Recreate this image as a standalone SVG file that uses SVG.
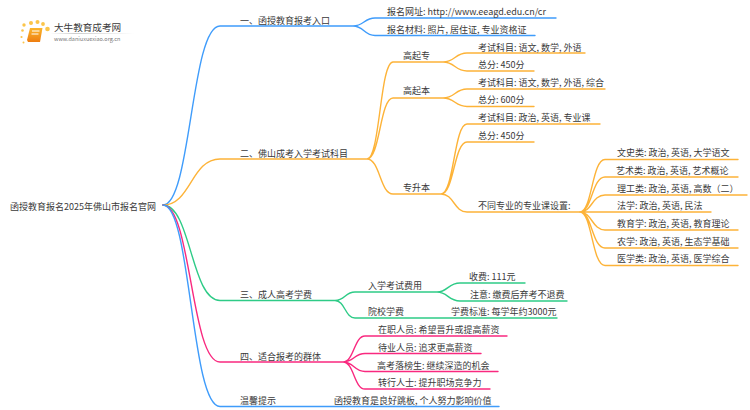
<svg xmlns="http://www.w3.org/2000/svg" width="750" height="410" viewBox="0 0 750 410">
<style>
text{font-family:"Noto Sans CJK SC","Noto Sans",sans-serif;font-size:9px;fill:#3a3a3a}
.c{fill:none;stroke-width:1.4;stroke-linecap:round}
.b{stroke:#3f9cfb}.o{stroke:#fdb338}.g{stroke:#2ecb87}.p{stroke:#f9297f}
</style>
<defs><linearGradient id="u"><stop offset="0" stop-color="#ccc" stop-opacity="0"/><stop offset=".3" stop-color="#ccc"/><stop offset="1" stop-color="#ccc" stop-opacity="0"/></linearGradient>
<linearGradient id="bk" x1="0" y1="0" x2="0" y2="1"><stop offset="0" stop-color="#fbb62c"/><stop offset="1" stop-color="#ee7d10"/></linearGradient></defs>
<rect width="750" height="410" fill="#fff"/>
<g id="logo">
<g fill="#fbc54a"><circle cx="24" cy="25" r="1.700"/><circle cx="31" cy="23" r="2"/><circle cx="37.500" cy="22" r="2"/><circle cx="43" cy="24" r="1.900"/><circle cx="47.500" cy="29" r="2.300"/><circle cx="22.500" cy="30.500" r="1.300"/><circle cx="21.500" cy="37" r="1.100"/><circle cx="23.500" cy="42.500" r="1"/></g>
<path d="M30 28h12.500l-2.500 14H28l-1-2z" fill="url(#bk)"/><path d="M32 31h7.500M31.500 34h7" stroke="#fff" stroke-width="1"/>
<rect x="50" y="33" width="84" height="1" fill="url(#u)"/>
<text x="54" y="30.500" style="font-size:9.600px">大牛教育成考网</text>
<text x="54" y="40.500" style="font-size:5.500px;fill:#777">www.daniuxuexiao.org.cn</text>
</g>
<g id="connectors">
<path class="c b" d="M163 205C191 205 191 26 220 26H353C364 26 364 18 375 18H556M353 26C364 26 364 35.500 375 35.500H535"/>
<path class="c o" d="M163 205C191 205 191 159 220 159H367C380 159 380 62 393 62H443C455 62 455 53 467 53H585M443 62C455 62 455 71 467 71H534M367 159C380 159 380 98 393 98H443C455 98 455 89 467 89H605M443 98C455 98 455 106.500 467 106.500H534M367 159C380 159 380 194 393 194H441C454 194 454 124 467 124H600M441 194C454 194 454 142 467 142H534M441 194C454 194 454 212 467 212H580"/>
<path class="c o" d="M580 212C592 212 592 159.500 605 159.500H738M580 212C592 212 592 177 605 177H738M580 212C592 212 592 195 605 195H747M580 212H711M580 212C592 212 592 230 605 230H738M580 212C592 212 592 248 605 248H738M580 212C592 212 592 265.500 605 265.500H738"/>
<path class="c g" d="M163 205C191 205 191 300.500 220 300.500H335C345 300.500 345 292 355 292H437C448 292 448 283 460 283H525M437 292C448 292 448 301 460 301H567M335 300.500C345 300.500 345 318 355 318H557"/>
<path class="c p" d="M163 205C191 205 191 362 220 362H343C354 362 354 336 365 336H507M343 362C354 362 354 353.500 365 353.500H481M343 362C354 362 354 371.500 365 371.500H498M343 362C354 362 354 389 365 389H490"/>
<path class="c b" d="M163 205C191 205 191 406.500 220 406.500H499"/>
</g>
<g id="root"><text x="10" y="209.500">函授教育报名2025年佛山市报名官网</text></g>
<g id="n1"><text x="240" y="23.500">一、函授教育报考入口</text></g>
<g id="n1-1"><text x="387" y="14.500">报名网址: http://www.eeagd.edu.cn/cr</text></g>
<g id="n1-2"><text x="387" y="32.500">报名材料: 照片, 居住证, 专业资格证</text></g>
<g id="n2"><text x="240" y="156.500">二、佛山成考入学考试科目</text></g>
<g id="n2-1"><text x="403" y="58.500">高起专</text></g>
<g id="n2-1-1"><text x="478" y="50.500">考试科目: 语文, 数学, 外语</text></g>
<g id="n2-1-2"><text x="478" y="68">总分: 450分</text></g>
<g id="n2-2"><text x="403" y="94">高起本</text></g>
<g id="n2-2-1"><text x="478" y="85.500">考试科目: 语文, 数学, 外语, 综合</text></g>
<g id="n2-2-2"><text x="478" y="103">总分: 600分</text></g>
<g id="n2-3"><text x="403" y="191">专升本</text></g>
<g id="n2-3-1"><text x="478" y="121">考试科目: 政治, 英语, 专业课</text></g>
<g id="n2-3-2"><text x="478" y="138.500">总分: 450分</text></g>
<g id="n2-3-3"><text x="478" y="209">不同专业的专业课设置:</text></g>
<g id="m1"><text x="617" y="156">文史类: 政治, 英语, 大学语文</text></g>
<g id="m2"><text x="616" y="173.500">艺术类: 政治, 英语, 艺术概论</text></g>
<g id="m3"><text x="617" y="191.500">理工类: 政治, 英语, 高数（二）</text></g>
<g id="m4"><text x="617" y="209">法学: 政治, 英语, 民法</text></g>
<g id="m5"><text x="617" y="227">教育学: 政治, 英语, 教育理论</text></g>
<g id="m6"><text x="617" y="244.500">农学: 政治, 英语, 生态学基础</text></g>
<g id="m7"><text x="617" y="262">医学类: 政治, 英语, 医学综合</text></g>
<g id="n3"><text x="240" y="297.500">三、成人高考学费</text></g>
<g id="n3-1"><text x="368" y="289">入学考试费用</text></g>
<g id="n3-1-1"><text x="469" y="279.500">收费: 111元</text></g>
<g id="n3-1-2"><text x="470" y="298">注意: 缴费后弃考不退费</text></g>
<g id="n3-2"><text x="368" y="315">院校学费</text></g>
<g id="n3-2-1"><text x="451" y="315">学费标准: 每学年约3000元</text></g>
<g id="n4"><text x="240" y="359.500">四、适合报考的群体</text></g>
<g id="n4-1"><text x="378" y="332.500">在职人员: 希望晋升或提高薪资</text></g>
<g id="n4-2"><text x="378" y="350.500">待业人员: 追求更高薪资</text></g>
<g id="n4-3"><text x="377" y="368.500">高考落榜生: 继续深造的机会</text></g>
<g id="n4-4"><text x="378" y="386">转行人士: 提升职场竞争力</text></g>
<g id="n5"><text x="240" y="403.500">温馨提示</text></g>
<g id="n5-1"><text x="334" y="403.500">函授教育是良好跳板, 个人努力影响价值</text></g>
</svg>
